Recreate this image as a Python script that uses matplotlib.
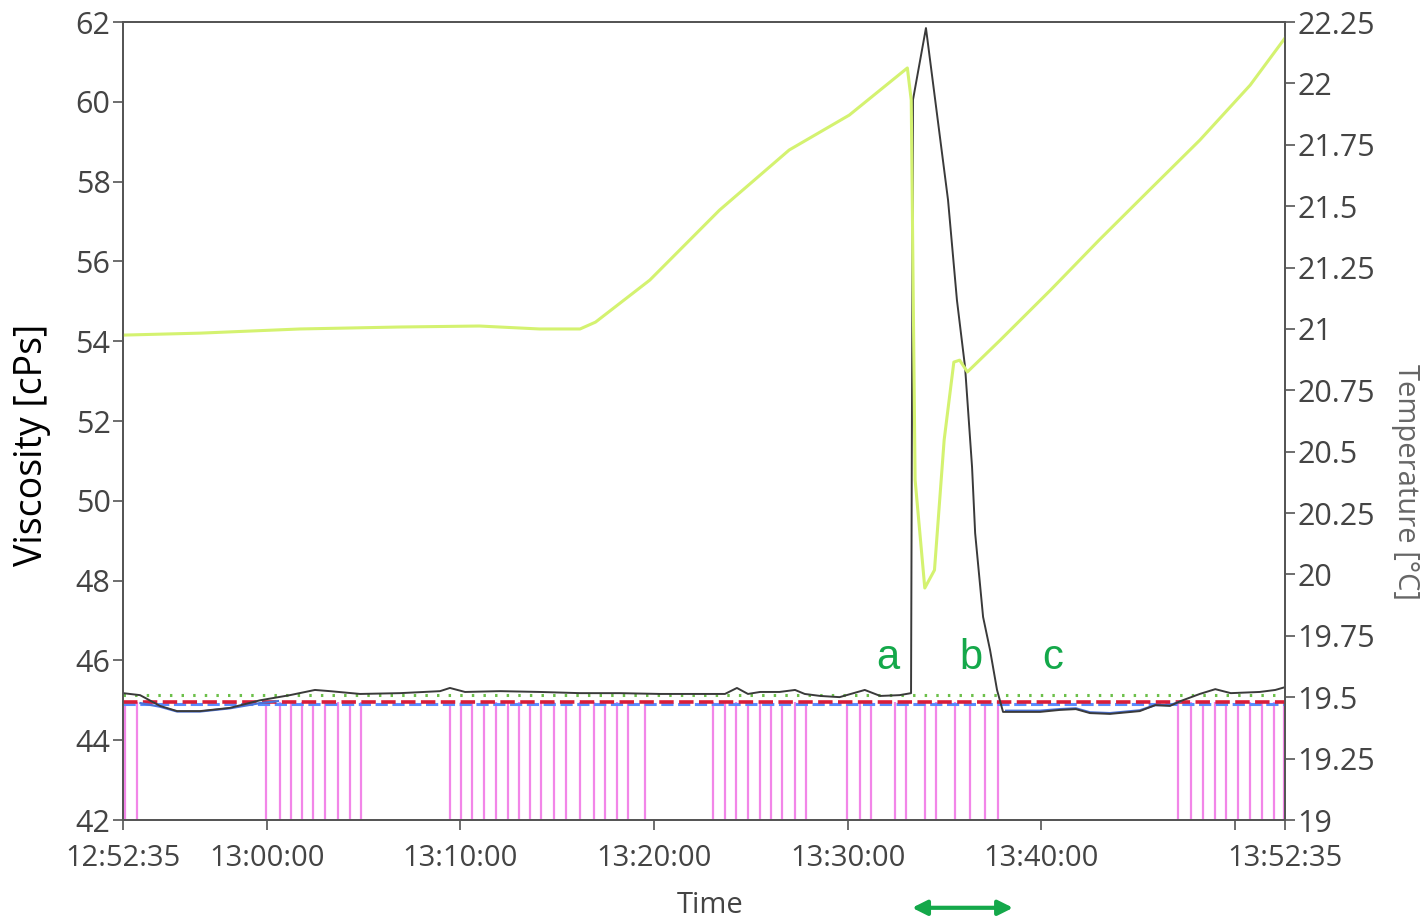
import matplotlib as mpl
import matplotlib.pyplot as plt
import numpy as np

mpl.rcParams['font.family'] = ['Open Sans', 'DejaVu Sans']

# time axis runs in minutes elapsed since 12:52:35
START = "12:52:35"

# viscosity trace (black), left axis
t_visc = [0.0, 0.88, 1.91, 2.79, 3.98, 5.52, 7.07, 8.62, 9.91, 10.69, 12.24, 14.30,
          16.37, 16.88, 17.66, 19.47, 21.53, 23.6, 25.66, 27.73, 29.79, 31.08, 31.7,
          32.27, 32.9, 33.9, 34.7, 35.2, 36.0, 37.0, 38.3, 39.1, 40.1, 40.69, 40.79,
          41.46, 42.6, 43.06, 43.48, 43.84, 44.0, 44.41, 44.77, 45.13, 45.44, 47.35,
          48.38, 49.2, 49.93, 50.96, 52.5, 53.3, 54.06, 54.6, 55.6, 56.4, 57.2, 58.7,
          59.5, 60.0]
visc = [45.18, 45.13, 44.86, 44.73, 44.73, 44.81, 45.0, 45.13, 45.26, 45.23, 45.16, 45.18,
        45.23, 45.31, 45.21, 45.23, 45.21, 45.18, 45.18, 45.16, 45.16, 45.16, 45.31,
        45.16, 45.21, 45.21, 45.26, 45.16, 45.11, 45.08, 45.26, 45.11, 45.13, 45.18, 60.05,
        61.85, 57.54, 55.03, 53.35, 50.85, 49.19, 47.09, 46.26, 45.26, 44.71, 44.71,
        44.76, 44.78, 44.68, 44.66, 44.73, 44.88, 44.86, 44.98, 45.16, 45.28, 45.18, 45.21,
        45.26, 45.33]

# smoothed viscosity (blue), only visible where it drops below the limits
t_blue1 = [0.9, 1.91, 2.79, 3.98, 5.52, 7.07, 8.0]
blue1 = [44.93, 44.84, 44.72, 44.72, 44.80, 44.93, 44.98]
t_blue2 = [45.6, 47.35, 48.38, 49.2, 49.93, 50.96, 52.5, 53.3, 54.06, 54.6]
blue2 = [44.74, 44.74, 44.78, 44.80, 44.70, 44.68, 44.75, 44.88, 44.88, 44.97]

# temperature trace (yellow-green), right axis
t_temp = [0.0, 3.98, 9.14, 14.3, 18.4, 21.5, 23.6, 24.4, 27.2, 30.8, 34.4, 37.5, 40.5,
          40.7, 40.9, 41.4, 41.9, 42.4, 42.9, 43.2, 43.6, 45.3, 47.9, 50.4, 53.0, 55.6,
          58.2, 60.0]
temp = [20.975, 20.983, 21.0, 21.008, 21.012, 21.0, 21.0, 21.028, 21.199, 21.484, 21.729,
        21.871, 22.063, 21.932, 20.385, 19.945, 20.018, 20.548, 20.865, 20.873, 20.825,
        20.955, 21.159, 21.362, 21.566, 21.769, 21.993, 22.185]

# limit lines (viscosity units)
upper_limit = 45.13
set_point = 44.96
lower_limit = 44.90

# flagged samples (magenta), clock times
events = ["12:52:41", "12:53:18", "12:59:58", "13:00:41", "13:01:15", "13:01:50", "13:02:24",
          "13:03:01", "13:03:41", "13:04:19", "13:04:53", "13:09:28", "13:10:02", "13:10:36",
          "13:11:13", "13:11:51", "13:12:28", "13:13:02", "13:13:36", "13:14:10", "13:14:50",
          "13:15:27", "13:16:11", "13:16:54", "13:17:28", "13:18:05", "13:18:40", "13:19:32",
          "13:23:03", "13:23:40", "13:24:14", "13:24:51", "13:25:28", "13:26:03", "13:26:37",
          "13:27:17", "13:27:51", "13:29:58", "13:30:38", "13:31:12", "13:32:27", "13:33:01",
          "13:34:00", "13:34:34", "13:35:33", "13:36:19", "13:37:06", "13:37:46", "13:47:04",
          "13:47:44", "13:48:21", "13:48:58", "13:49:32", "13:50:09", "13:50:47", "13:51:24",
          "13:52:01", "13:52:32"]

tick_times = ["12:52:35", "13:00:00", "13:10:00", "13:20:00", "13:30:00", "13:40:00",
              "13:50:00", "13:52:35"]
tick_labels = ["12:52:35", "13:00:00", "13:10:00", "13:20:00", "13:30:00", "13:40:00",
               "", "13:52:35"]

marks = ["a", "b", "c"]
mark_times = [39.5, 43.8, 48.0]


def to_min(s):
    h, m, sec = [int(v) for v in s.split(":")]
    h0, m0, s0 = [int(v) for v in START.split(":")]
    return ((h - h0) * 3600 + (m - m0) * 60 + (sec - s0)) / 60.0


fig = plt.figure(figsize=(14.27, 9.19), dpi=100)
ax = fig.add_axes([0.0862, 0.1077, 0.8143, 0.8683])
ax2 = ax.twinx()

# magenta event lines
ev = [to_min(e) for e in events]
ax.vlines(ev, 42, set_point, color="#f286e8", linewidth=1.6, zorder=2)

# limit lines
ax.axhline(lower_limit, color="#5b8cff", linestyle=(0, (4, 1.5)), linewidth=2.2, zorder=3)
ax.axhline(set_point, color="#d81e3a", linestyle=(0, (4, 1.5)), linewidth=2.6, zorder=3)
ax.axhline(upper_limit, color="#6cc04a", linestyle=(0, (0.8, 3)), linewidth=2.2, zorder=3)

ax.plot(t_blue1, blue1, color="#4a72d8", linewidth=1.6, zorder=4)
ax.plot(t_blue2, blue2, color="#4a72d8", linewidth=1.6, zorder=4)
ax.plot(t_visc, visc, color="#3a3a3a", linewidth=1.4, zorder=5)

ax2.plot(t_temp, temp, color="#d4f270", linewidth=2.2)

ax.set_xlim(0, 60)
ax.set_ylim(42, 62)
ax2.set_ylim(19, 22.25)

ax.set_xticks([to_min(t) for t in tick_times])
ax.set_xticklabels(tick_labels)
ax.set_yticks(np.arange(42, 63, 2))
r_ticks = np.arange(19, 22.26, 0.25)
ax2.set_yticks(r_ticks)
ax2.set_yticklabels(["%g" % v for v in r_ticks])

for a in (ax, ax2):
    a.tick_params(axis="both", labelsize=22, colors="#555555", labelcolor="#444444",
                  length=7, width=1.2, direction="out", pad=2)
    for s in a.spines.values():
        s.set_color("#555555")
        s.set_linewidth(1.3)
ax.tick_params(axis="x", labelsize=21, pad=10)

ax.set_ylabel("Viscosity [cPs]", fontsize=27, color="black")
ax.yaxis.set_label_coords(-0.062, 0.47)
ax2.set_ylabel("Temperature [°C]", fontsize=21, color="#666666", rotation=270, va="center")
ax2.yaxis.set_label_coords(1.104, 0.424)
ax.set_xlabel("Time", fontsize=21, color="#444444")
ax.xaxis.set_label_coords(0.505, -0.089)

# annotations
for m, tm in zip(marks, mark_times):
    ax.text(tm, 45.55, m, fontsize=30, color="#14a84a", ha="center", va="bottom",
            family=["Liberation Sans", "DejaVu Sans"])

ax.annotate("", xy=(40.6, -0.11), xytext=(46.1, -0.11),
            xycoords=("data", "axes fraction"), textcoords=("data", "axes fraction"),
            arrowprops=dict(arrowstyle="<|-|>", color="#14a84a", lw=3, mutation_scale=22),
            annotation_clip=False)

plt.savefig("out.png", dpi=100)
plt.close("all")
